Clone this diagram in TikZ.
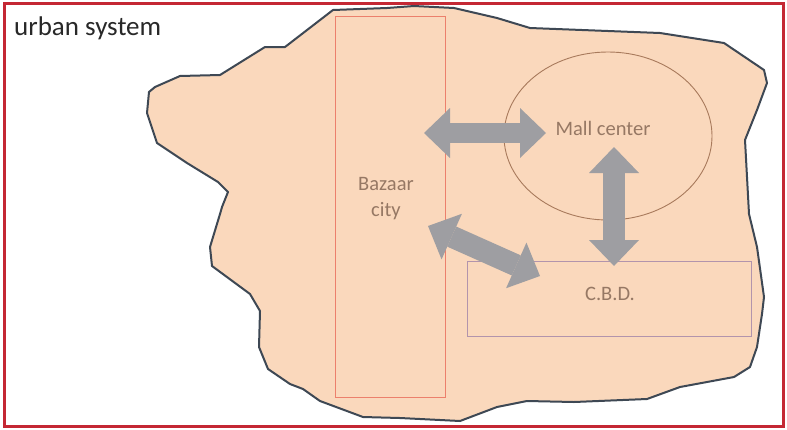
\documentclass[tikz,border=0pt]{standalone}
\usepackage{fontspec}
\setmainfont{Carlito}
\usetikzlibrary{shapes.geometric,arrows.meta}
\definecolor{frame}{RGB}{196,40,52}
\definecolor{blobfill}{RGB}{250,216,188}
\definecolor{blobline}{RGB}{62,72,84}
\definecolor{bazline}{RGB}{236,128,108}
\definecolor{mallline}{RGB}{168,122,92}
\definecolor{cbdline}{RGB}{178,148,172}
\definecolor{inktext}{RGB}{150,120,100}
\definecolor{arrowgray}{RGB}{158,158,162}
\tikzset{
  zonetext/.style={text=inktext, font=\fontsize{20.5}{26}\selectfont, align=center, inner sep=0pt},
  blockarrow/.style={draw=arrowgray, line width=20pt,
    {Triangle[width=50pt,length=26pt,line width=0pt]}-{Triangle[width=50pt,length=26pt,line width=0pt]}},
}
\begin{document}
\begin{tikzpicture}[x=1pt,y=-1pt]
\useasboundingbox (0,0) rectangle (787,429);
\fill[white] (0,0) rectangle (787,429);
% urban area outline
\draw[blobline, fill=blobfill, line width=2pt, line join=round]
 (333,10) -- (285,47) -- (265,47) -- (220,75) -- (180,76) -- (155,87) -- (149,92)
 -- (147,113) -- (157,143) -- (187,163) -- (218,182) -- (228,192) -- (222,207)
 -- (220,214) -- (210,247) -- (212,266) -- (250,294) -- (260,311) -- (259,347)
 -- (268,369) -- (290,384) -- (303,389) -- (320,401) -- (363,417) -- (400,418)
 -- (460,421) -- (497,407) -- (527,401) -- (574,402) -- (647,399) -- (680,387)
 -- (734,377) -- (750,367) -- (757,347) -- (762,314) -- (764,297) -- (757,247)
 -- (749,214) -- (745,140) -- (757,110) -- (767,83) -- (764,70) -- (724,43)
 -- (660,33) -- (530,28) -- (497,18) -- (454,8) -- (414,6) -- (387,8) -- cycle;
% frame
\draw[frame, line width=3pt] (4,3) rectangle (783,426);
% title
\node[anchor=base west, inner sep=0pt, text={rgb,255:red,40;green,40;blue,40},
      font=\fontsize{27}{32}\selectfont] (title) at (14,35) {urban system};
% zones
\node[draw=bazline, line width=1pt, rectangle, minimum width=110pt, minimum height=381pt,
      inner sep=0pt] (bazaar) at (390,206.5) {};
\node[zonetext] (bazaartext) at (386,199) {Bazaar\\city};
\node[draw=mallline, line width=0.9pt, ellipse, minimum width=208pt, minimum height=168pt,
      inner sep=0pt] (mall) at (608,136) {};
\node[zonetext] (malltext) at (603,128) {Mall center};
\node[draw=cbdline, line width=1pt, rectangle, minimum width=284pt, minimum height=75pt,
      inner sep=0pt] (cbd) at (609,298.5) {};
\node[zonetext] (cbdtext) at (610,294) {C.B.D.};
% arrows
\coordinate (a1s) at (424,133);
\coordinate (a1e) at (546,133);
\coordinate (a2s) at (614,147);
\coordinate (a2e) at (614,266);
\coordinate (a3s) at (428,226);
\coordinate (a3e) at (540,276);
\draw[blockarrow] (a1s) -- (a1e);
\draw[blockarrow, line width=22pt] (a2s) -- (a2e);
\draw[blockarrow, line width=22pt] (a3s) -- (a3e);
\end{tikzpicture}
\end{document}
